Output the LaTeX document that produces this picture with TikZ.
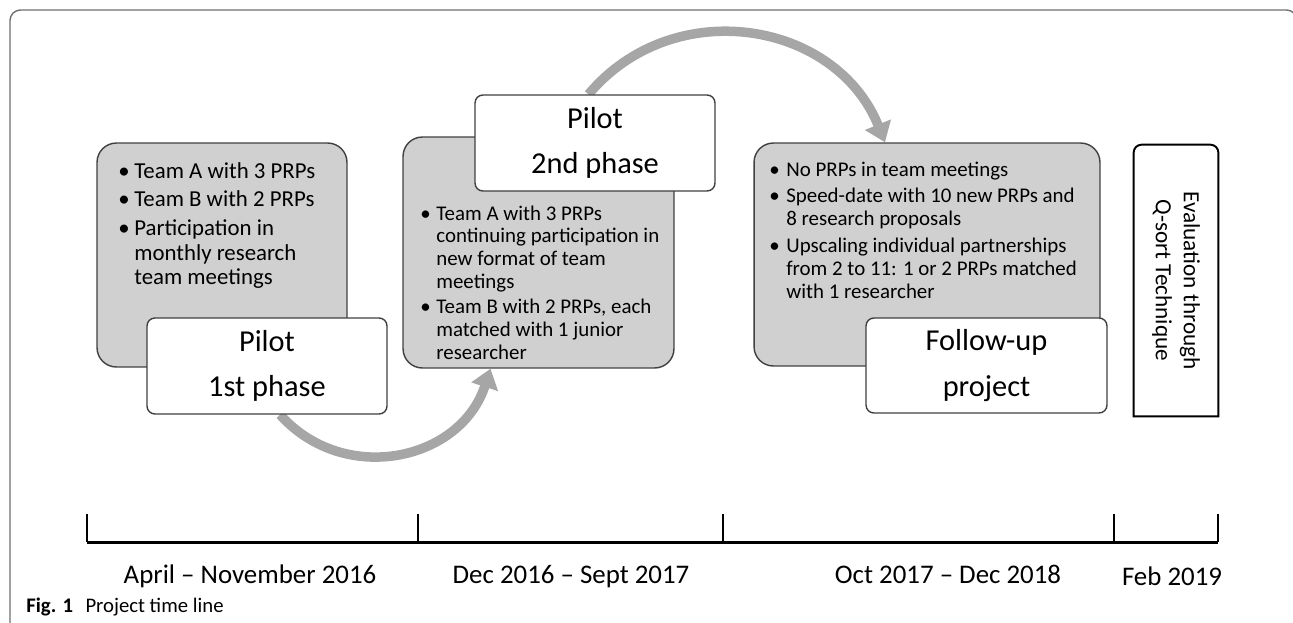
\documentclass[tikz,border=0pt]{standalone}
\usepackage{fontspec}
\setmainfont{Carlito}
\usetikzlibrary{arrows.meta}
\usetikzlibrary{calc}

\definecolor{boxgrey}{HTML}{D0D0D0}
\definecolor{edgegrey}{HTML}{404040}
\definecolor{arrowgrey}{HTML}{A6A6A6}
\definecolor{framegrey}{HTML}{6E6E6E}

\begin{document}
\begin{tikzpicture}[x=0.02cm,y=0.02cm,
	greybox/.style={draw=edgegrey,line width=0.8pt,fill=boxgrey,rounded corners=11pt,inner sep=0pt},
	phasebox/.style={draw=edgegrey,line width=0.8pt,fill=white,rounded corners=4.5pt,minimum width=4.8cm,minimum height=1.92cm,align=center,font=\fontsize{17.3}{26}\selectfont},
	listtext/.style={anchor=base west,inner sep=0pt},
	flow/.style={draw=arrowgrey,line width=5.4pt,-{Triangle[length=0.38cm,width=0.54cm]}},
	yeartick/.style={line width=1.1pt},
	datelabel/.style={anchor=base,inner sep=0pt,font=\fontsize{15.3}{17}\selectfont}]
	\useasboundingbox (0,0) rectangle (1293,-622);
	\draw[framegrey,line width=0.8pt,rounded corners=6pt] (10,-640) -- (10,-10) -- (1297,-10) -- (1297,-640);

	% boxes without text first
	\draw (222,-255) node (team1) [greybox,minimum width=5cm,minimum height=4.48cm] {};
	\draw (538.5,-252.5) node (team2) [greybox,minimum width=5.42cm,minimum height=4.62cm] {};
	\draw (927,-254.5) node (team3) [greybox,minimum width=6.92cm,minimum height=4.46cm] {};

	% arrows between the phases
	\draw[flow] ($(team1.south)+(58,-47)$) to[out=-48,in=-108,looseness=1.15] ($(team2.south)+(-48,0)$);
	\draw[flow] ($(team2.north)+(50,42)$) to[out=50,in=112,looseness=1.12] ($(team3.north)+(-42,0)$);

	\draw (267,-366) node (pilot1) [phasebox] {Pilot\\1st phase};
	\draw (595,-143) node (pilot2) [phasebox] {Pilot\\2nd phase};
	\draw (986.5,-365.5) node (followup) [phasebox,minimum width=4.82cm,minimum height=1.9cm] {Follow-up\\project};

	\draw (118,-178) node (list1) [listtext,font=\fontsize{13}{13.9}\selectfont] {\begin{tabular}[t]{@{}p{0.32cm}@{}l@{}}
		\textbullet & Team A with 3 PRPs\\[2.5pt]
		\textbullet & Team B with 2 PRPs\\[2.5pt]
		\textbullet & Participation in\\
		& monthly research\\
		& team meetings
	\end{tabular}};
	\draw (420,-220) node (list2) [listtext,font=\fontsize{11.9}{13}\selectfont] {\begin{tabular}[t]{@{}p{0.32cm}@{}l@{}}
		\textbullet & Team A with 3 PRPs\\
		& continuing participation in\\
		& new format of team\\
		& meetings\\[1.2pt]
		\textbullet & Team B with 2 PRPs, each\\
		& matched with 1 junior\\
		& researcher
	\end{tabular}};
	\draw (769,-176) node (list3) [listtext,font=\fontsize{11.9}{13}\selectfont] {\begin{tabular}[t]{@{}p{0.34cm}@{}l@{}}
		\textbullet & No PRPs in team meetings\\[2.3pt]
		\textbullet & Speed-date with 10 new PRPs and\\
		& 8 research proposals\\[2.3pt]
		\textbullet & Upscaling individual partnerships\\
		& from 2 to 11: 1 or 2 PRPs matched\\
		& with 1 researcher
	\end{tabular}};

	% evaluation box, rounded on top only
	\draw (1176,-280.5) node (evalbox) [minimum width=1.68cm,minimum height=5.42cm,inner sep=0pt] {};
	\draw[line width=1.1pt] (evalbox.west) [rounded corners=4.5pt] -- (evalbox.north west) -- (evalbox.north east) -- (evalbox.east) [sharp corners] -- (evalbox.south east) -- (evalbox.south west) -- cycle;
	\draw (evalbox.center) node (evaltext) [rotate=-90,align=center,font=\fontsize{13.2}{15.9}\selectfont] {Evaluation through\\Q-sort Technique};

	% time line
	\coordinate (t0) at (87,-542);
	\coordinate (t1) at (418,-542);
	\coordinate (t2) at (723,-542);
	\coordinate (t3) at (1114,-542);
	\coordinate (t4) at (1218,-542);
	\draw[line width=1.7pt] (t0) -- (t4);
	\foreach \t in {t0,t1,t2,t3,t4}
		\draw[yeartick] (\t) -- ++(0,28);
	\draw (250,-583) node (span1) [datelabel] {April – November 2016};
	\draw (571,-583) node (span2) [datelabel] {Dec 2016 – Sept 2017};
	\draw (948,-583) node (span3) [datelabel] {Oct 2017 – Dec 2018};
	\draw (1172,-585) node (span4) [datelabel] {Feb 2019};

	\draw (26,-612) node (caption) [anchor=base west,inner sep=0pt,font=\fontsize{11.8}{13}\selectfont] {\textbf{Fig. 1}\hspace{0.6em}Project time line};
\end{tikzpicture}
\end{document}
